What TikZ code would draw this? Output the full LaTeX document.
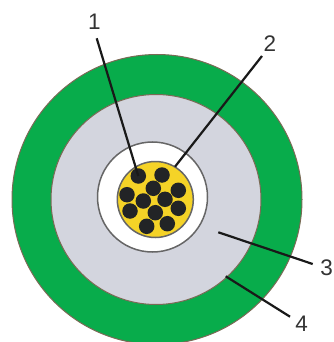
\documentclass[tikz,border=0pt]{standalone}
\usepackage{fontspec}
\setmainfont{Liberation Sans}
\definecolor{cgreen}{HTML}{08AC4B}
\definecolor{cgrey}{HTML}{D3D5DE}
\definecolor{cyel}{HTML}{F5D327}
\definecolor{cdark}{HTML}{222426}
\definecolor{cedge}{HTML}{7A6A55}
\tikzset{x=1pt,y=-1pt,
 leader/.style={draw=black!90,line width=2.2pt},
 lab/.style={font=\fontsize{22.5}{22.5}\selectfont,text=black!80,inner sep=0pt},
 strand/.style={circle,fill=cdark,minimum size=15.5pt,inner sep=0pt}}
\begin{document}
\begin{tikzpicture}
\useasboundingbox (0,0) rectangle (333,342);
\fill[white] (0,0) rectangle (333,342);
\begin{scope}
\clip (0,0) rectangle (333,342);
\draw[draw=cedge,fill=cgreen,line width=1pt] (157,199.5) circle[radius=145];
\draw[draw=cedge,fill=cgrey,line width=1pt] (156,199.5) circle[radius=105];
\draw[draw=black!60,fill=white,line width=1.5pt] (152.5,197) circle[radius=55];
\draw[draw=black!60,fill=cyel,line width=1.5pt] (155.3,199.5) circle[radius=38];
\end{scope}
\node[strand] (s1) at (138.3,176) {};
\node[strand] (s2) at (162,175) {};
\node[strand] (s3) at (153.3,188.3) {};
\node[strand] (s4) at (178.3,190.3) {};
\node[strand] (s5) at (127,194.7) {};
\node[strand] (s6) at (143.3,201) {};
\node[strand] (s7) at (165,199.3) {};
\node[strand] (s8) at (130,211) {};
\node[strand] (s9) at (178.3,208.3) {};
\node[strand] (s10) at (155.3,212.7) {};
\node[strand] (s11) at (146.7,226.3) {};
\node[strand] (s12) at (167.3,223.7) {};
\node[lab] (n1) at (94.3,21.3) {1};
\node[lab] (n2) at (270,43.3) {2};
\node[lab] (n3) at (326.7,267.7) {3};
\node[lab] (n4) at (301.7,324) {4};
\coordinate (e1) at (96.7,38.3);
\coordinate (e2) at (262,56);
\coordinate (e3) at (312.7,264);
\coordinate (e4) at (290,316.7);
\coordinate (t3) at (218.3,232.3);
\coordinate (t4) at (225.7,276.3);
\coordinate (t2) at (175,166.7);
\draw[leader] (e1) -- (s1.center);
\draw[leader] (e2) -- (t2);
\draw[leader] (e3) -- (t3);
\draw[leader] (e4) -- (t4);
\end{tikzpicture}
\end{document}
